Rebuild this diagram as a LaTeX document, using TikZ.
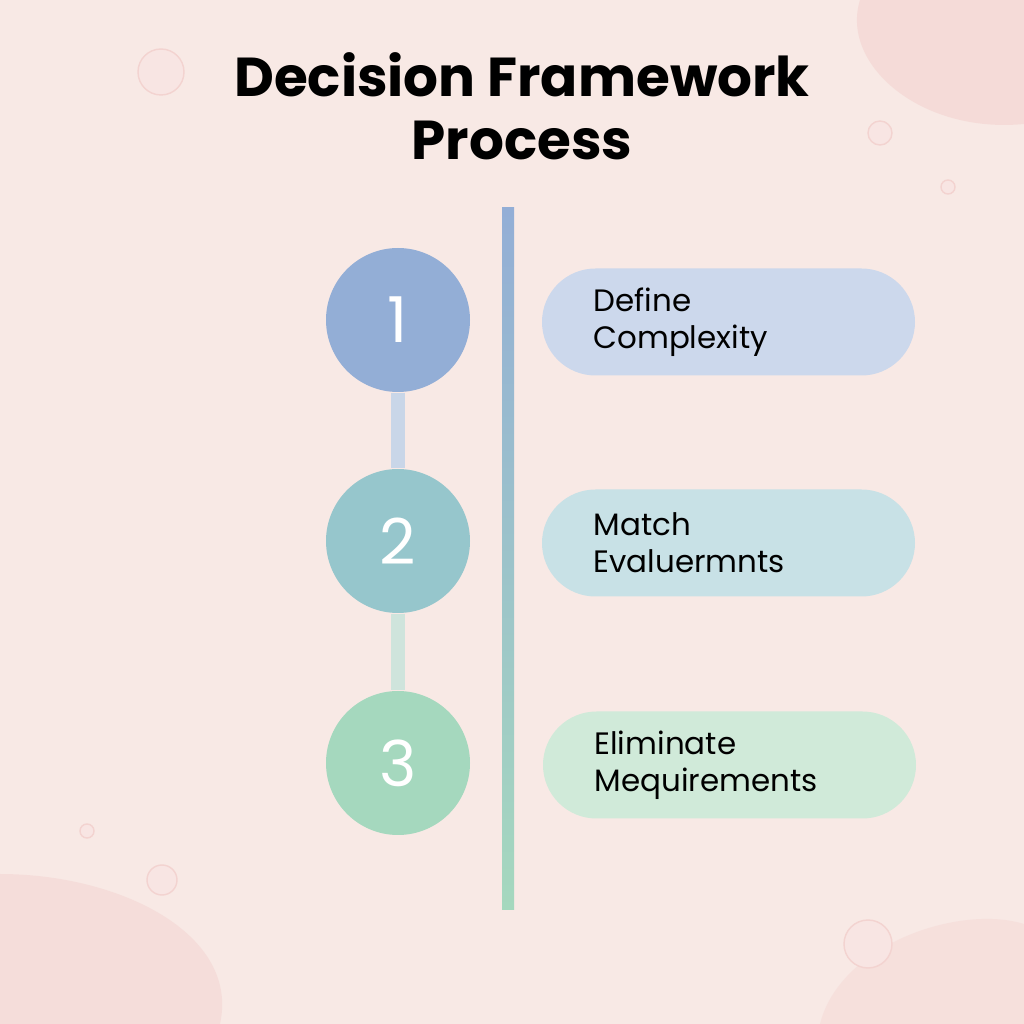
\documentclass[tikz,border=0pt]{standalone}
\usepackage{fontspec}
\setmainfont{Poppins}
\usetikzlibrary{positioning}
\definecolor{bgpink}{HTML}{F8E9E5}
\definecolor{blobpink}{HTML}{F3D3D0}
\definecolor{stepA}{HTML}{93AED6}
\definecolor{stepB}{HTML}{96C6CC}
\definecolor{stepC}{HTML}{A5D8BE}
\definecolor{pillA}{HTML}{CCD8EC}
\definecolor{pillB}{HTML}{C8E1E6}
\definecolor{pillC}{HTML}{D0EAD9}
\definecolor{barA}{HTML}{C9D6E8}
\definecolor{barB}{HTML}{CFE4DC}
\tikzset{
  stepnode/.style={circle, minimum size=1.44cm, inner sep=0pt, text=white, font=\fontsize{18}{20}\selectfont},
  pill/.style={rounded corners=0.535cm, minimum width=3.73cm, minimum height=1.07cm, text width=2.7cm, align=left, font=\fontsize{8.8}{10.6}\selectfont},
  link/.style={line width=0.14cm},
}
\begin{document}
\begin{tikzpicture}
  \fill[bgpink] (0,0) rectangle (10.24,10.24);
  \useasboundingbox (0,0) rectangle (10.24,10.24);
  % background decoration
  \fill[blobpink, opacity=0.6] (8.6,10.24) .. controls (8.4,9.6) and (9.2,8.9) .. (10.24,9.0) -- (10.24,10.24) -- cycle;
  \fill[blobpink, opacity=0.5] (0,1.5) .. controls (1.2,1.5) and (2.4,0.9) .. (2.2,0) -- (0,0) -- cycle;
  \fill[blobpink, opacity=0.4] (8.2,0) .. controls (8.4,0.8) and (9.6,1.2) .. (10.24,1.0) -- (10.24,0) -- cycle;
  \draw[blobpink, fill=blobpink!60] (1.61,9.52) circle (0.23);
  \draw[blobpink, fill=blobpink!60] (8.80,8.91) circle (0.12);
  \draw[blobpink, fill=blobpink!60] (9.48,8.37) circle (0.07);
  \draw[blobpink, fill=blobpink!60] (1.62,1.44) circle (0.15);
  \draw[blobpink, fill=blobpink!60] (0.87,1.93) circle (0.07);
  \draw[blobpink, fill=blobpink!60] (8.68,0.80) circle (0.24);

  \node[font=\bfseries\fontsize{15.6}{18}\selectfont, align=center] (title) at (5.22,9.18) {Decision Framework\\Process};

  \shade[top color=stepA, bottom color=stepC] (5.02,1.14) rectangle (5.14,8.16);

  \node[stepnode, fill=stepA] (c1) at (3.98,7.04) {1};
  \node[stepnode, fill=stepB] (c2) at (3.98,4.83) {2};
  \node[stepnode, fill=stepC] (c3) at (3.98,2.61) {3};
  \draw[link, barA] (c1.south) -- (c2.north);
  \draw[link, barB] (c2.south) -- (c3.north);

  \node[pill, fill=pillA] (p1) at (7.285,7.02) {Define\\Complexity};
  \node[pill, fill=pillB] (p2) at (7.285,4.81) {Match\\Evaluermnts};
  \node[pill, fill=pillC] (p3) at (7.295,2.59) {Eliminate\\Mequirements};
\end{tikzpicture}
\end{document}
